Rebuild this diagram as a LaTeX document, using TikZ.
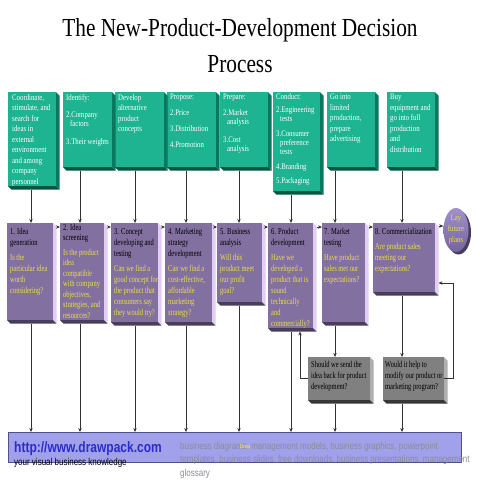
\documentclass[tikz,border=0pt]{standalone}
\usepackage{fontspec}
\setmainfont{Liberation Serif}
\newfontfamily\arial{Liberation Sans}
\usepackage{graphicx}
\usetikzlibrary{arrows.meta,calc,shapes.geometric}
\definecolor{gface}{RGB}{30,180,145}
\definecolor{gright}{RGB}{10,120,95}
\definecolor{gbot}{RGB}{5,85,65}
\definecolor{pface}{RGB}{130,112,160}
\definecolor{pright}{RGB}{228,205,242}
\definecolor{pbot}{RGB}{72,62,92}
\definecolor{qyellow}{RGB}{235,222,70}
\definecolor{dface}{RGB}{128,128,128}
\definecolor{dright}{RGB}{175,175,175}
\definecolor{dbot}{RGB}{55,55,55}
\definecolor{barfill}{RGB}{160,160,235}
\definecolor{barline}{RGB}{80,80,140}
\definecolor{urlblue}{RGB}{45,45,200}
\definecolor{kwgray}{RGB}{140,140,150}
\definecolor{lavtop}{RGB}{160,145,200}
\definecolor{lavbot}{RGB}{118,100,158}
\newcommand\sq[3]{\scalebox{#1}[1]{\parbox[t]{#2}{\raggedright #3}}}
\newcommand\extrude[4]{%
  \fill[#2] (#1.north east) -- ([shift={(#4,#4)}]#1.north east) -- ([shift={(#4,#4)}]#1.south east) -- (#1.south east) -- cycle;
  \fill[#3] (#1.south west) -- ([shift={(#4,#4)}]#1.south west) -- ([shift={(#4,#4)}]#1.south east) -- (#1.south east) -- cycle;}
\begin{document}
\begin{tikzpicture}[x=1pt,y=-1pt,
  gbox/.style={fill=gface, anchor=north west, inner sep=0, outer sep=0},
  pbox/.style={fill=pface, anchor=north west, inner sep=0, outer sep=0},
  dbox/.style={fill=dface, anchor=north west, inner sep=0, outer sep=0},
  gtxt/.style={anchor=north west, inner sep=0, text=white, font=\fontsize{8.5}{10.5}\selectfont},
  gtxtl/.style={gtxt, font=\fontsize{8.5}{9}\selectfont},
  ptxt/.style={anchor=north west, inner sep=0, text=black, font=\fontsize{9}{11}\selectfont},
  arr/.style={draw=black!80, line width=0.6pt, -{Stealth[length=4pt,width=3.4pt]}},
]
\useasboundingbox (0,0) rectangle (480,480);
\fill[white] (0,0) rectangle (480,480);

% column coordinates
\coordinate (x1) at (31,0);
\coordinate (x2) at (80,0);
\coordinate (x3) at (135,0);
\coordinate (x4) at (186,0);
\coordinate (x5) at (239,0);
\coordinate (x6) at (291,0);
\coordinate (x7) at (335,0);
\coordinate (x8) at (402,0);
\coordinate (xf) at (300,0);
\coordinate (xr) at (453,0);
\coordinate (yr) at (0,283);

% title
\node[anchor=north, inner sep=0, font=\fontsize{26}{36}\selectfont] (title) at (240,18.5)
  {\scalebox{0.82}[1]{\parbox{480pt}{\centering The New-Product-Development Decision\\Process}}};

% green boxes
\node[gbox, minimum width=48, minimum height=94] (g1) at (8,92) {};
\node[gbox, minimum width=49, minimum height=75] (g2) at (63,92) {};
\node[gbox, minimum width=49, minimum height=75] (g3) at (115,92) {};
\node[gbox, minimum width=49, minimum height=75] (g4) at (167,92) {};
\node[gbox, minimum width=48, minimum height=75] (g5) at (220,92) {};
\node[gbox, minimum width=47, minimum height=99] (g6) at (273,92) {};
\node[gbox, minimum width=48, minimum height=75] (g7) at (327,92) {};
\node[gbox, minimum width=48, minimum height=75] (g8) at (387,92) {};
\foreach \n in {g1,g2,g3,g4,g5,g6,g7,g8}{\extrude{\n}{gright}{gbot}{3.5}}

\node[gtxt] (g1t) at ([shift={(4,2)}]g1.north west) {\sq{0.8}{80pt}{Coordinate,\\stimulate, and\\search for\\ideas in\\external\\environment\\and among\\company\\personnel}};
\node[gtxtl] (g2t) at ([shift={(3,2)}]g2.north west) {\sq{0.8}{80pt}{Identify:\\[8pt]2.Company\\\hspace*{5pt}factors\\[9pt]3.Their weights}};
\node[gtxt] (g3t) at ([shift={(3,2)}]g3.north west) {\sq{0.8}{80pt}{Develop\\alternative\\product\\concepts}};
\node[gtxtl] (g4t) at ([shift={(3,2)}]g4.north west) {\sq{0.8}{80pt}{Propose:\\[7pt]2.Price\\[7pt]3.Distribution\\[7pt]4.Promotion}};
\node[gtxtl] (g5t) at ([shift={(3,2)}]g5.north west) {\sq{0.8}{80pt}{Prepare:\\[7pt]2.Market\\\hspace*{5pt}analysis\\[9pt]3.Cost\\\hspace*{5pt}analysis}};
\node[gtxtl] (g6t) at ([shift={(3,1)}]g6.north west) {\sq{0.8}{80pt}{Conduct:\\[4pt]2.Engineering\\\hspace*{5pt}tests\\[6pt]3.Consumer\\\hspace*{5pt}preference\\\hspace*{5pt}tests\\[6pt]4.Branding\\[5pt]5.Packaging}};
\node[gtxt] (g7t) at ([shift={(3,2)}]g7.north west) {\sq{0.8}{80pt}{Go into\\limited\\production,\\prepare\\advertising}};
\node[gtxt] (g8t) at ([shift={(3,2)}]g8.north west) {\sq{0.8}{80pt}{Buy\\equipment and\\go into full\\production\\and\\distribution}};

% purple boxes
\node[pbox, minimum width=46, minimum height=97] (p1) at (7,223) {};
\node[pbox, minimum width=44, minimum height=97] (p2) at (60,223) {};
\node[pbox, minimum width=47, minimum height=99] (p3) at (111,223) {};
\node[pbox, minimum width=47, minimum height=99] (p4) at (165,223) {};
\node[pbox, minimum width=45, minimum height=79] (p5) at (217,223) {};
\node[pbox, minimum width=45, minimum height=105] (p6) at (268,223) {};
\node[pbox, minimum width=43, minimum height=99] (p7) at (322,223) {};
\node[pbox, minimum width=62, minimum height=69] (p8) at (373,223) {};
\foreach \n in {p1,p2,p3,p4,p5,p6,p7,p8}{\extrude{\n}{pright}{pbot}{3.5}}

\node[ptxt] (p1t) at ([shift={(3,5)}]p1.north west) {\sq{0.72}{90pt}{1. Idea\\generation\\[4pt]\color{qyellow}Is the\\particular idea\\worth\\considering?}};
\node[ptxt, font=\fontsize{9}{10.5}\selectfont] (p2t) at ([shift={(3,1)}]p2.north west) {\sq{0.72}{90pt}{2. Idea\\screening\\[4pt]\color{qyellow}Is the product\\idea\\compatible\\with company\\objectives,\\strategies, and\\resources?}};
\node[ptxt] (p3t) at ([shift={(3,5)}]p3.north west) {\sq{0.72}{90pt}{3. Concept\\developing and\\testing\\[4pt]\color{qyellow}Can we find a\\good concept for\\the product that\\consumers say\\they would try?}};
\node[ptxt] (p4t) at ([shift={(3,5)}]p4.north west) {\sq{0.72}{90pt}{4. Marketing\\strategy\\development\\[4pt]\color{qyellow}Can we find a\\cost-effective,\\affordable\\marketing\\strategy?}};
\node[ptxt] (p5t) at ([shift={(3,5)}]p5.north west) {\sq{0.72}{90pt}{5. Business\\analysis\\[4pt]\color{qyellow}Will this\\product meet\\our profit\\goal?}};
\node[ptxt] (p6t) at ([shift={(3,5)}]p6.north west) {\sq{0.72}{90pt}{6. Product\\development\\[4pt]\color{qyellow}Have we\\developed a\\product that is\\sound\\technically\\and\\commercially?}};
\node[ptxt] (p7t) at ([shift={(2,5)}]p7.north west) {\sq{0.72}{90pt}{7. Market\\testing\\[4pt]\color{qyellow}Have product\\sales met our\\expectations?}};
\node[ptxt] (p8t) at ([shift={(2,5)}]p8.north west) {\sq{0.72}{100pt}{8. Commercialization\\[4pt]\color{qyellow}Are product sales\\meeting our\\expectations?}};

% lay future plans
\fill[pbot] (458.5,232.5) ellipse [x radius=12.5, y radius=22];
\node[ellipse, top color=lavtop, bottom color=lavbot, minimum width=25, minimum height=44, inner sep=0] (lay) at (456,230) {};
\node[inner sep=0, text=qyellow, font=\fontsize{8.5}{11}\selectfont, align=center] (layt) at (lay.center) {\scalebox{0.8}[1]{\parbox{40pt}{\centering Lay\\future\\plans}}};

% grey decision boxes
\node[dbox, minimum width=62, minimum height=43] (ga) at (308,357) {};
\node[dbox, minimum width=61, minimum height=43] (gb) at (383,357) {};
\foreach \n in {ga,gb}{\extrude{\n}{dright}{dbot}{3.5}}
\node[ptxt] (gat) at ([shift={(3,4)}]ga.north west) {\sq{0.72}{100pt}{Should we send the\\idea back for product\\development?}};
\node[ptxt] (gbt) at ([shift={(2,4)}]gb.north west) {\sq{0.72}{100pt}{Would it help to\\modify our product or\\marketing program?}};

% bottom bar
\node[draw=barline, fill=barfill, line width=0.6pt, anchor=north west, minimum width=453, minimum height=30, inner sep=0] (bar) at (8,432) {};
\node[anchor=base west, inner sep=0, text=urlblue, font=\arial\bfseries\fontsize{15}{15}\selectfont] (url) at (14,452) {\scalebox{0.8}[1]{http://www.drawpack.com}};
\node[anchor=base west, inner sep=0, font=\arial\fontsize{10}{10}\selectfont] (tag) at (14,465.5) {\scalebox{0.8}[1]{your visual business knowledge}};
\node[anchor=north west, inner sep=0, text=kwgray, font=\arial\fontsize{10}{13.5}\selectfont] (kw) at (180,441.7) {\sq{0.8}{400pt}{business diagrams, management models, business graphics, powerpoint\\templates, business slides, free downloads, business presentations, management\\glossary}};
\node[inner sep=0, text=qyellow, font=\arial\bfseries\fontsize{5.5}{6}\selectfont] (drop) at (245,447) {\scalebox{0.8}[1]{Drop}};

% connectors: green -> purple
\foreach \i in {1,...,8}{
  \draw[arr] ($(g\i.south -| x\i)+(0,3.5)$) -- (p\i.north -| x\i);
}
% purple -> purple
\foreach \i/\j in {1/2,2/3,3/4,4/5,5/6,6/7,7/8}{
  \draw[arr] ($(p\i.north east)+(3.5,4)$) -- ($(p\j.north west)+(0,4)$);
}
\coordinate (h8) at ($(p8.north east)+(3.5,3)$);
\draw[arr] (h8) -- (h8 -| lay.west);
% purple -> bar
\foreach \i in {1,...,6}{
  \draw[arr] ($(p\i.south -| x\i)+(0,3.5)$) -- (bar.north -| x\i);
}
\draw[arr] ($(p7.south -| x7)+(0,3.5)$) -- (ga.north -| x7);
\draw[arr] ($(p8.south -| x8)+(0,3.5)$) -- (gb.north -| x8);
\draw[arr] ($(ga.south -| x7)+(0,3.5)$) -- (bar.north -| x7);
\draw[arr] ($(gb.south -| x8)+(0,3.5)$) -- (bar.north -| x8);
% feedback loops
\draw[arr] (ga.west) -- (ga.west -| xf) -- ($(p6.south -| xf)+(0,3.5)$);
\draw[arr] (gb.east) -- (gb.east -| xr) -- (xr |- yr) -- ($(p8.east |- yr)+(3.5,0)$);
\end{tikzpicture}
\end{document}
